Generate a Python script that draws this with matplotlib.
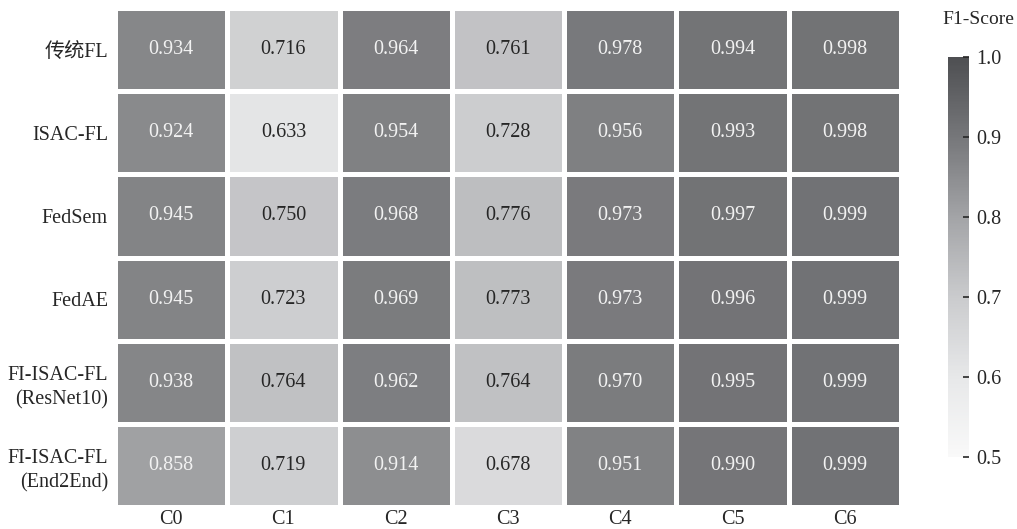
import numpy as np
import matplotlib
matplotlib.use('Agg')
import matplotlib.pyplot as plt
from matplotlib.colors import LinearSegmentedColormap, Normalize
from matplotlib.cm import ScalarMappable

methods = ['传统FL', 'ISAC-FL', 'FedSem', 'FedAE',
           'FI-ISAC-FL\n(ResNet10)', 'FI-ISAC-FL\n(End2End)']
classes = ['C0', 'C1', 'C2', 'C3', 'C4', 'C5', 'C6']

f1_trad_fl = [0.934, 0.716, 0.964, 0.761, 0.978, 0.994, 0.998]
f1_isac_fl = [0.924, 0.633, 0.954, 0.728, 0.956, 0.993, 0.998]
f1_fedsem = [0.945, 0.750, 0.968, 0.776, 0.973, 0.997, 0.999]
f1_fedae = [0.945, 0.723, 0.969, 0.773, 0.973, 0.996, 0.999]
f1_fi_resnet10 = [0.938, 0.764, 0.962, 0.764, 0.970, 0.995, 0.999]
f1_fi_end2end = [0.858, 0.719, 0.914, 0.678, 0.951, 0.990, 0.999]

cbar_ticks = [0.5, 0.6, 0.7, 0.8, 0.9, 1.0]

data = np.array([f1_trad_fl, f1_isac_fl, f1_fedsem, f1_fedae,
                 f1_fi_resnet10, f1_fi_end2end])

plt.rcParams['font.family'] = ['Liberation Serif', 'Noto Sans CJK SC']

# colormap (opaque, used by colorbar)
anchors = [(0.0, (249, 249, 249)), (0.2, (231, 232, 233)), (0.4, (202, 203, 205)),
           (0.6, (163, 164, 167)), (0.8, (118, 119, 122)), (1.0, (78, 79, 82))]
cmap = LinearSegmentedColormap.from_list(
    'f1grey', [(p, tuple(c / 255 for c in rgb)) for p, rgb in anchors])
# cells are drawn semi-transparent over white
alpha = 0.8
cmap_cells = LinearSegmentedColormap.from_list(
    'f1grey_cells',
    [(p, tuple(alpha * c / 255 + (1 - alpha) for c in rgb)) for p, rgb in anchors])
norm = Normalize(vmin=0.5, vmax=1.0)

W, H = 1017, 529
fig = plt.figure(figsize=(W / 100, H / 100), dpi=100)
ax = fig.add_axes([115 / W, 1 - 507 / H, 786 / W, 499 / H])

nr, nc = data.shape
ax.pcolormesh(np.arange(nc + 1), np.arange(nr + 1), data, cmap=cmap_cells, norm=norm,
              edgecolors='white', linewidth=3.6)
ax.set_xlim(0, nc)
ax.set_ylim(nr, 0)

for i in range(nr):
    for j in range(nc):
        v = data[i, j]
        col = '#f2f2f2' if v >= 0.8 else '#262626'
        ax.text(j + 0.5, i + 0.5, f'{v:.3f}', ha='center', va='center',
                color=col, fontsize=14.5)

ax.set_xticks(np.arange(nc) + 0.5)
ax.set_xticklabels(classes)
ax.set_yticks(np.arange(nr) + 0.5)
ax.set_yticklabels(methods, linespacing=1.4)
ax.tick_params(axis='y', length=0, labelsize=14.5, colors='#262626', pad=5)
ax.tick_params(axis='x', length=0, labelsize=14.5, colors='#262626', pad=2)
for s in ax.spines.values():
    s.set_visible(False)

cax = fig.add_axes([948 / W, 1 - 457 / H, 21 / W, 400 / H])
cb = fig.colorbar(ScalarMappable(norm=norm, cmap=cmap), cax=cax)
cb.outline.set_visible(False)
cb.set_ticks(cbar_ticks)
cb.set_ticklabels([f'{t:.1f}' for t in cbar_ticks])
cax.tick_params(direction='in', length=4.3, width=1.2, color='#262626',
                labelsize=14.5, labelcolor='#262626', pad=5)

fig.text(978 / W, 1 - 19 / H, 'F1-Score', ha='center', va='center',
         fontsize=14, color='#262626')

fig.savefig('out.png', dpi=100)
